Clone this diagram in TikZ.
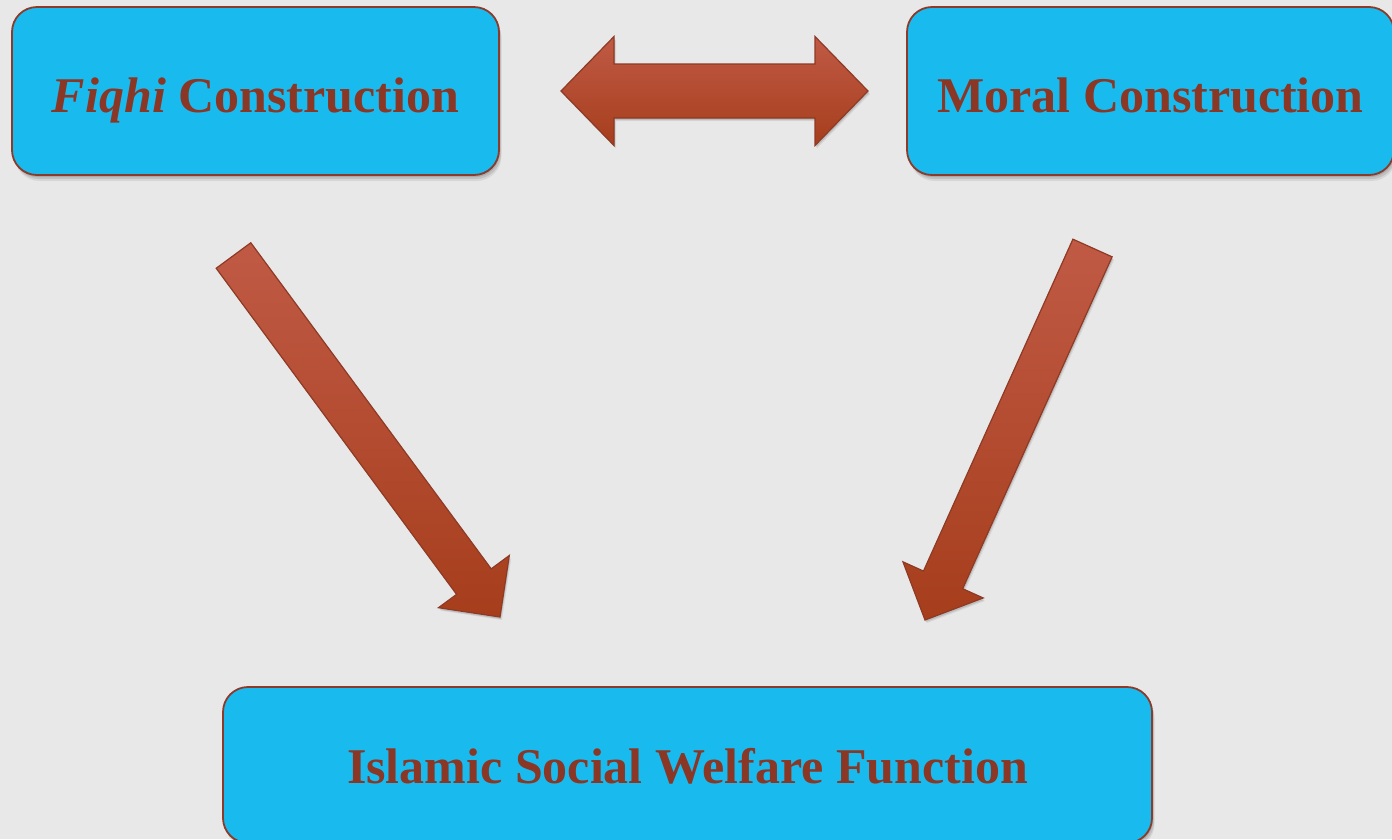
\documentclass[tikz,border=0pt]{standalone}
\usepackage{fontspec}
\setmainfont{Liberation Serif}
\usetikzlibrary{calc,shadows}
\definecolor{bg}{HTML}{E8E8E8}
\definecolor{boxfill}{HTML}{19BBEF}
\definecolor{boxline}{HTML}{8C3B2A}
\definecolor{txt}{HTML}{8A3726}
\definecolor{arrtop}{HTML}{C05A45}
\definecolor{arrbot}{HTML}{A63E1C}
\definecolor{arrline}{HTML}{8E3A24}
\tikzset{
  softshadow/.style={
    drop shadow={shadow xshift=1pt, shadow yshift=-2pt, opacity=0.12, fill=black},
    drop shadow={shadow xshift=2pt, shadow yshift=-4pt, opacity=0.10, fill=black},
    drop shadow={shadow xshift=2.5pt, shadow yshift=-6pt, opacity=0.07, fill=black}},
  box/.style={draw=boxline, line width=1.8pt, fill=boxfill, rounded corners=25pt,
    inner sep=0pt, text=txt, font=\fontsize{50}{60}\selectfont\bfseries,
    text depth=0pt, softshadow},
  blockarr/.style={draw=arrline, line width=1.2pt, top color=arrtop, bottom color=arrbot,
    line join=miter,
    drop shadow={shadow xshift=1pt, shadow yshift=-2pt, opacity=0.12, fill=black},
    drop shadow={shadow xshift=2pt, shadow yshift=-3pt, opacity=0.07, fill=black}}
}
% #1 tail centre, #2 tip, #3 half shaft width, #4 half head width, #5 head length
\newcommand\blockarrowfromto[5]{%
  \coordinate (hb) at ($(#2)!#5!(#1)$);
  \path[blockarr] ($(#1)!#3!90:(#2)$) -- ($(hb)!#3!90:(#2)$) -- ($(hb)!#4!90:(#2)$)
    -- (#2) -- ($(hb)!#4!-90:(#2)$) -- ($(hb)!#3!-90:(#2)$) -- ($(#1)!#3!-90:(#2)$) -- cycle;
}
% #1 left tip, #2 right tip, #3 half shaft, #4 half head, #5 head length
\newcommand\doubleblockarrow[5]{%
  \coordinate (hbl) at ($(#1)!#5!(#2)$);
  \coordinate (hbr) at ($(#2)!#5!(#1)$);
  \path[blockarr] (#1) -- ($(hbl)!#4!90:(#2)$) -- ($(hbl)!#3!90:(#2)$)
    -- ($(hbr)!#3!-90:(#1)$) -- ($(hbr)!#4!-90:(#1)$) -- (#2)
    -- ($(hbr)!#4!90:(#1)$) -- ($(hbr)!#3!90:(#1)$)
    -- ($(hbl)!#3!-90:(#2)$) -- ($(hbl)!#4!-90:(#2)$) -- cycle;
}
\begin{document}
\begin{tikzpicture}[x=1pt,y=-1pt]
\useasboundingbox (0,0) rectangle (1392,839);
\fill[bg] (0,0) rectangle (1392,839);

\node[box, minimum width=487pt, minimum height=168pt, text height=42pt] (fiqhi) at (255.5,91) {\textit{Fiqhi} Construction};
\node[box, minimum width=487pt, minimum height=168pt, text height=42pt] (moral) at (1150.5,91) {Moral Construction};
\node[box, minimum width=929pt, minimum height=156pt, text height=36pt] (islamic) at (687.5,765) {Islamic Social Welfare Function};

\coordinate (dl) at (561,91);
\coordinate (dr) at (868,91);
\doubleblockarrow{dl}{dr}{27pt}{54.5pt}{53pt}

\coordinate (fa) at (233.5,255.5);
\coordinate (fb) at (500,617);
\blockarrowfromto{fa}{fb}{21.5pt}{44pt}{44pt}

\coordinate (ma) at (1092.5,248);
\coordinate (mb) at (925,620);
\blockarrowfromto{ma}{mb}{21.5pt}{44pt}{44pt}
\end{tikzpicture}
\end{document}
